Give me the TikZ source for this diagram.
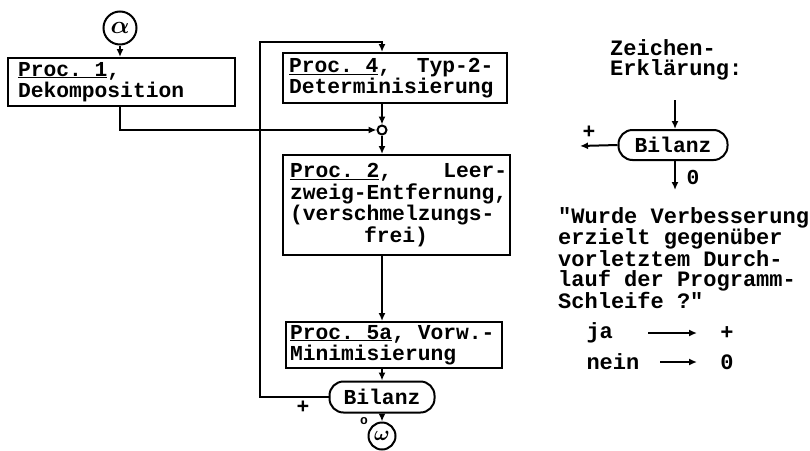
\documentclass[tikz,border=0pt]{standalone}
\usepackage{fontspec}
\newfontfamily\tw{Liberation Mono}[WordSpace={1,0,0},PunctuationSpace=WordSpace]
\usetikzlibrary{arrows.meta,calc}
\frenchspacing
\newcommand\msp{\hphantom{x}}
\begin{document}
\begin{tikzpicture}[x=1pt,y=-1pt,
  every node/.style={font=\tw\bfseries\fontsize{21.3}{21.5}\selectfont},
  proc/.style={draw,line width=2pt,align=left,inner ysep=0pt},
  arr/.style={line width=2pt,-{Latex[length=8pt,width=7pt]}},
  term/.style={draw,line width=2pt,rounded corners=14pt,inner sep=0pt},
  conn/.style={draw,circle,line width=2pt,inner sep=0pt},
  legend/.style={font=\tw\bfseries\fontsize{22}{20}\selectfont}]
\useasboundingbox (0,0) rectangle (810,450);
% main flow
\node[conn,minimum size=33pt,font=\fontsize{27}{27}\selectfont\boldmath] (al) at (120,28) {$\alpha$};
\node[proc,minimum width=227pt,minimum height=48pt,text width=207pt,inner xsep=10pt] (p1) at (121.5,82) {\mbox{\underline{Proc.\msp1},}\\\mbox{Dekomposition}};
\node[proc,minimum width=224pt,minimum height=50pt,text width=212pt,inner xsep=6pt] (p4) at (395,78) {\mbox{\underline{Proc.\msp4},\msp\msp Typ-2-}\\\mbox{Determinisierung}};
\node[conn,minimum size=9pt] (j) at (382,130) {};
\node[proc,minimum width=227pt,minimum height=100pt,text width=213pt,inner xsep=7pt] (p2) at (396.5,205) {\mbox{\underline{Proc.\msp2},\msp\msp\msp\msp Leer-}\\\mbox{zweig-Entfernung,}\\\mbox{(verschmelzungs-}\\\mbox{\hspace*{74pt}frei)}};
\node[proc,minimum width=216pt,minimum height=46pt,text width=208pt,inner xsep=4pt] (p5) at (394,345) {\mbox{\underline{Proc.\msp5a},\msp Vorw.-}\\\mbox{Minimisierung}};
\node[term,minimum width=105pt,minimum height=31pt] (bil) at (382,397) {Bilanz};
\node[conn,minimum size=27pt,font=\fontsize{22}{22}\selectfont\boldmath] (om) at (382,436) {$\omega$};
\coordinate (lt) at (260,42);
\draw[arr] (al) -- (p1.north -| al);
\draw[arr] (p1.south -| al) |- (j.west);
\draw[arr] (p4.south -| j) -- (j.north);
\draw[arr] (j.south) -- (p2.north -| j);
\draw[arr] (p2.south -| j) -- (p5.north -| j);
\draw[arr] (p5.south -| j) -- (bil.north);
\draw[arr] (bil.south) -- (om.north);
\draw[arr] (bil.west) -| (lt) -| (p4.north -| j);
\node (plus) at (303,407) {+};
\node[font=\tw\bfseries\fontsize{13}{13}\selectfont] (zero) at (364,421) {o};
% legend
\node[legend,anchor=west,align=left,inner sep=0pt] (ze) at (610,60) {Zeichen-\\Erklärung:};
\node[term,minimum width=109pt,minimum height=30pt] (lb) at (673,145) {Bilanz};
\coordinate (lbin) at (675,100);
\coordinate (lbout) at (675,190);
\coordinate (lbp) at (580,146);
\draw[arr] (lbin) -- (lbin |- lb.north);
\draw[arr] (lbout |- lb.south) -- (lbout);
\draw[arr] (lb.west) -- (lbp);
\node (lplus) at (589,132) {+};
\node (lzero) at (693,177) {0};
\node[legend,anchor=west,align=left,inner sep=0pt] (q) at (558,258) {"Wurde Verbesserung\\erzielt gegenüber\\vorletztem Durch-\\lauf der Programm-\\Schleife ?"};
\node[legend,anchor=west] (ja) at (583,333) {ja};
\coordinate (ja1) at (648,333);
\coordinate (ja2) at (697,333);
\draw[arr] (ja1) -- (ja2);
\node[legend] (jp) at (727,333) {+};
\node[legend,anchor=west] (ne) at (583,362) {nein};
\coordinate (ne1) at (660,362);
\coordinate (ne2) at (697,362);
\draw[arr] (ne1) -- (ne2);
\node[legend] (nz) at (727,362) {0};
\end{tikzpicture}
\end{document}
